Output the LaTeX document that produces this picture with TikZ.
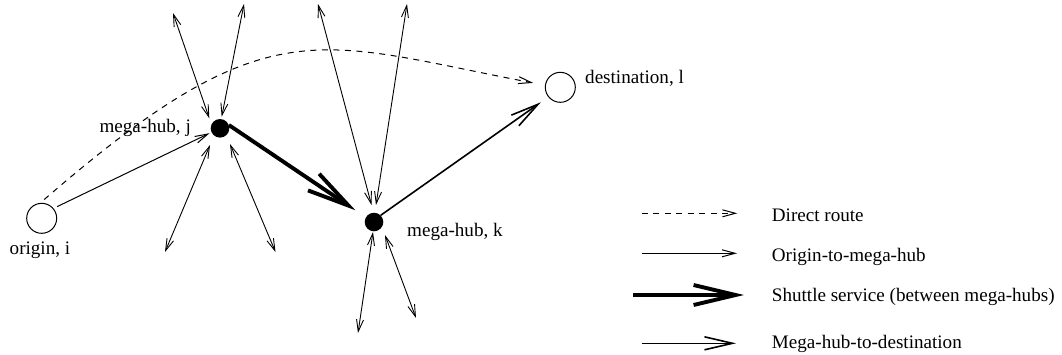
\documentclass[tikz,border=0pt]{standalone}
\usepackage{fontspec}
\setmainfont{Liberation Serif}
\usetikzlibrary{arrows.meta}
\begin{document}
\begin{tikzpicture}[x=1pt,y=-1pt,
  every node/.style={font=\fontsize{19.1}{23}\selectfont},
  openhub/.style={circle,draw,line width=1pt,inner sep=0pt,minimum size=30pt},
  megahub/.style={circle,fill=black,inner sep=0pt,minimum size=18.6pt},
  lab/.style={inner sep=0pt},
  smalltip/.style={line width=1pt,-{Straight Barb[length=13pt,width=7pt]}},
  spoke/.style={line width=0.9pt,{Straight Barb[length=12pt,width=7pt]}-{Straight Barb[length=12pt,width=7pt]}},
  direct/.style={smalltip,dash pattern=on 6pt off 5.5pt},
  feeder/.style={smalltip},
  shuttle/.style={line width=3.9pt,-{Straight Barb[length=42pt,width=20pt]}},
  delivery/.style={line width=1.6pt,-{Straight Barb[length=28pt,width=13pt]}},
]
\useasboundingbox (0,0) rectangle (1062,354);

% nodes
\node[openhub] (i) at (41.7,218.3) {};
\node[megahub] (j) at (220,128.3) {};
\node[megahub] (k) at (374,222) {};
\node[openhub] (l) at (560.3,87.3) {};

\node[lab,anchor=base west] (ilab) at (9.5,254) {origin, i};
\node[lab,anchor=base east] (jlab) at (191,132.7) {mega-hub, j};
\node[lab,anchor=base west] (klab) at (407,236) {mega-hub, k};
\node[lab,anchor=base west] (llab) at (585,83.3) {destination, l};

% main routes
\draw[direct,shorten <=5pt,shorten >=12pt] (i.95) .. controls (270,4) and (317,42) .. (l.172);
\draw[feeder,shorten <=4pt,shorten >=2pt] (i.40) -- (j.205);
\draw[shuttle,shorten >=12.5pt] (j.20) -- (k.150);
\draw[delivery,shorten >=9pt] (k.45) -- (l.219);

% spokes around j
\coordinate (ja1) at (173,13);    \coordinate (ja2) at (209.3,118.3);
\coordinate (jb1) at (244,4);     \coordinate (jb2) at (221.7,116.7);
\coordinate (jc1) at (210,145);   \coordinate (jc2) at (165,252);
\coordinate (jd1) at (230,144);   \coordinate (jd2) at (275.5,252);
\draw[spoke] (ja1) -- (ja2);
\draw[spoke] (jb1) -- (jb2);
\draw[spoke] (jc1) -- (jc2);
\draw[spoke] (jd1) -- (jd2);

% spokes around k
\coordinate (ka1) at (318,4);     \coordinate (ka2) at (371.5,205);
\coordinate (kb1) at (407,4);     \coordinate (kb2) at (376,205);
\coordinate (kc1) at (373,232);   \coordinate (kc2) at (358,333);
\coordinate (kd1) at (385,235);   \coordinate (kd2) at (416,318);
\draw[spoke] (ka1) -- (ka2);
\draw[spoke] (kb1) -- (kb2);
\draw[spoke] (kc1) -- (kc2);
\draw[spoke] (kd1) -- (kd2);

% legend
\coordinate (la1) at (641.7,213.3); \coordinate (la2) at (737.3,213.3);
\coordinate (lb1) at (642,253.3);   \coordinate (lb2) at (737,253.3);
\coordinate (lc1) at (633.3,295);   \coordinate (lc2) at (744,295);
\coordinate (ld1) at (642,343.3);   \coordinate (ld2) at (736,343.3);
\draw[direct] (la1) -- (la2);
\draw[feeder] (lb1) -- (lb2);
\draw[shuttle] (lc1) -- (lc2);
\draw[delivery] (ld1) -- (ld2);

\node[lab,anchor=base west] (ta) at (771.7,221.7) {Direct route};
\node[lab,anchor=base west] (tb) at (771.7,261.7) {Origin-to-mega-hub};
\node[lab,anchor=base west] (tc) at (771.7,301.7) {Shuttle service (between mega-hubs)};
\node[lab,anchor=base west] (td) at (771.7,348.3) {Mega-hub-to-destination};
\end{tikzpicture}
\end{document}
